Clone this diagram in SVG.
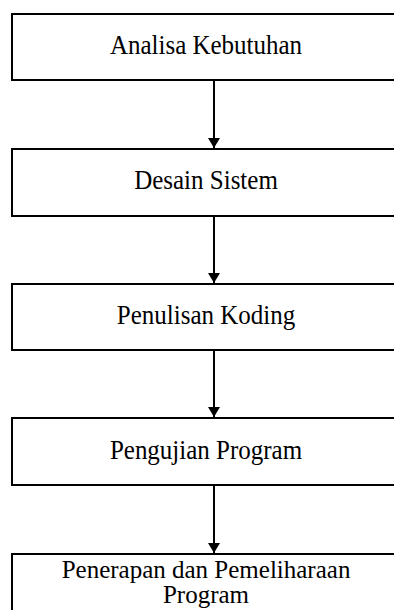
<svg xmlns="http://www.w3.org/2000/svg" width="394" height="610" viewBox="0 0 394 610">
  <style>
    .box { fill: #ffffff; stroke: #000000; stroke-width: 2; }
    .lbl { font-family: "Liberation Serif", "Times New Roman", serif; font-size: 25px; fill: #000000; text-anchor: middle; }
    .flow { stroke: #000000; stroke-width: 2; fill: none; marker-end: url(#head); }
  </style>
  <defs>
    <marker id="head" viewBox="0 0 10 12" refX="10" refY="6" markerWidth="10" markerHeight="12" markerUnits="userSpaceOnUse" orient="auto">
      <path d="M0,0 L10,6 L0,12 Z" fill="#000000"/>
    </marker>
  </defs>
  <rect width="394" height="610" fill="#ffffff"/>

  <g id="connectors">
    <line class="flow" x1="214" y1="81" x2="214" y2="148"/>
    <line class="flow" x1="214" y1="216" x2="214" y2="283"/>
    <line class="flow" x1="214" y1="351" x2="214" y2="417"/>
    <line class="flow" x1="214" y1="485" x2="214" y2="553"/>
  </g>

  <!-- labels are slightly stretched vertically -->
  <g id="analisa-kebutuhan">
    <rect class="box" x="12" y="14" width="410" height="66"/>
    <text class="lbl" transform="translate(206,54) scale(1,1.08)">Analisa Kebutuhan</text>
  </g>
  <g id="desain-sistem">
    <rect class="box" x="12" y="149" width="410" height="67"/>
    <text class="lbl" transform="translate(206,189) scale(1,1.08)">Desain Sistem</text>
  </g>
  <g id="penulisan-koding">
    <rect class="box" x="12" y="284" width="410" height="66"/>
    <text class="lbl" transform="translate(206,324) scale(1,1.08)">Penulisan Koding</text>
  </g>
  <g id="pengujian-program">
    <rect class="box" x="12" y="418" width="410" height="67"/>
    <text class="lbl" transform="translate(206,459) scale(1,1.08)">Pengujian Program</text>
  </g>
  <g id="penerapan-pemeliharaan">
    <rect class="box" x="12" y="554" width="410" height="80"/>
    <text class="lbl" transform="translate(206,578)">Penerapan dan Pemeliharaan</text>
    <text class="lbl" transform="translate(206,603)">Program</text>
  </g>
</svg>
